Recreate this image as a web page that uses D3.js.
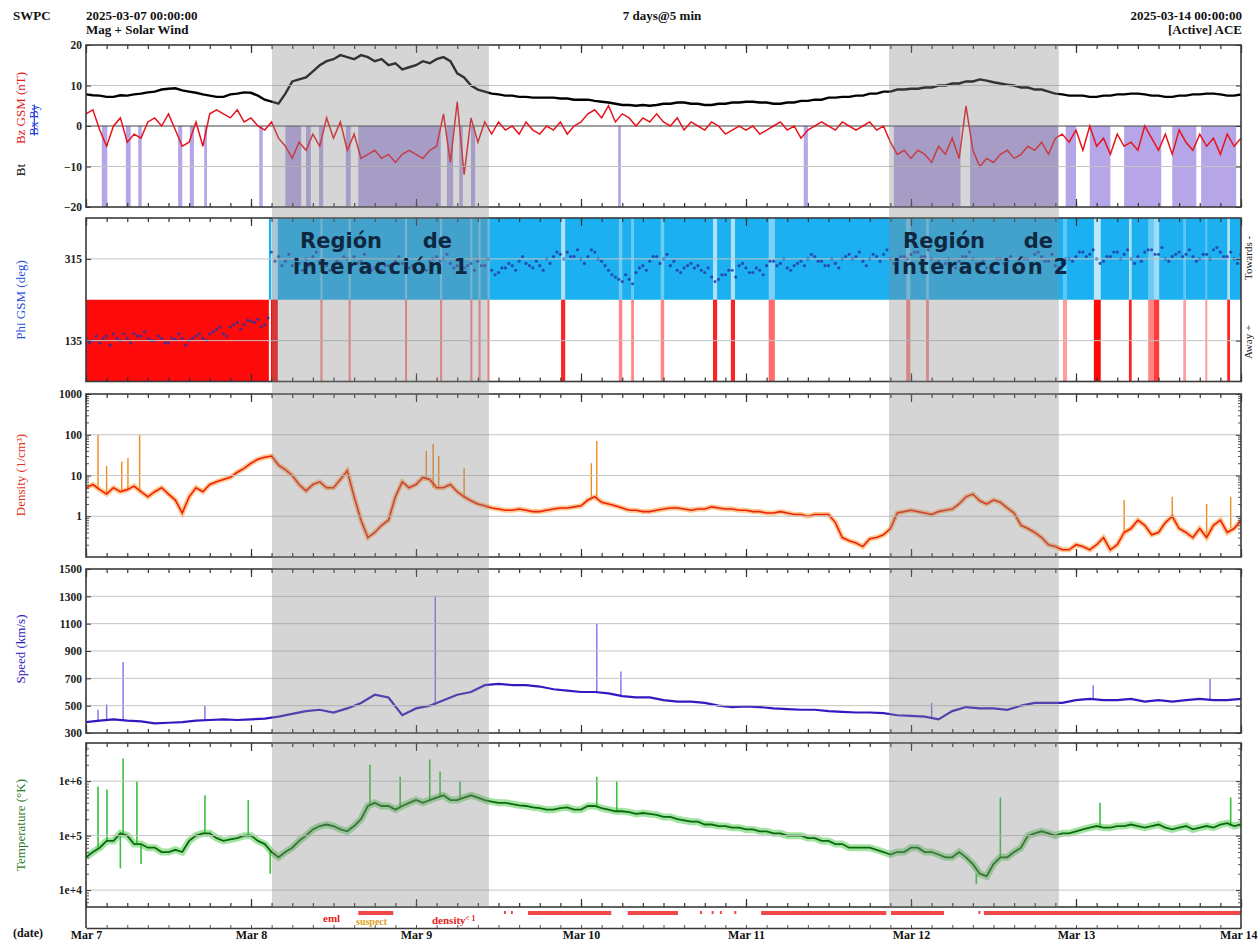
<!DOCTYPE html>
<html>
<head>
<meta charset="utf-8">
<script src="https://cdn.jsdelivr.net/npm/d3@7"></script>
<style>
  body { margin: 0; background: #fff; }
  svg text { font-family: "Liberation Serif", "DejaVu Serif", serif; }
</style>
</head>
<body>
<div id="main"></div>
<script>
// tiempo en horas desde 2025-03-07 00:00 (7 dias)
const dayLabels = ["Mar 7", "Mar 8", "Mar 9", "Mar 10", "Mar 11", "Mar 12", "Mar 13", "Mar 14"];

// Bt (nT), un valor por hora
const bt = [7.8,7.6,7.5,7.2,7.2,7.6,7.5,7.8,8,8.3,8.5,9,9.2,9.3,8.8,8.5,8.2,7.8,7.5,7.2,7.2,7.8,8,8.3,8.2,
  7.5,6.5,6,5.5,8,11,11.5,12,13.5,15,16,16.5,17.5,17,16.5,17.5,17,16,16.5,15,15.5,14,14.5,15,16,15.5,16.5,17,16,13,12,10,9,8.5,8,7.8,
  7.5,7.5,7.2,7.2,7,7,7,7,6.8,6.8,6.5,6.5,6.5,6.2,6,5.8,5.5,5.2,5.2,5,5.2,5,5.2,5.5,5.5,5.8,5.8,5.5,5.5,5.2,5.2,5.5,5.5,5.8,5.8,6,6,5.8,5.8,5.5,
  5.5,5.8,5.8,6.2,6.2,6.5,6.5,7,7,7.2,7.2,7.5,7.5,8,8,8.5,8.5,9,9,9.2,9.2,9.5,9.5,10,10,10.5,10.5,11,11,11.5,11.2,10.8,10.5,10.2,10,9.5,
  9.5,9,9,8.5,8,7.8,7.5,7.5,7.5,7.2,7.2,7.5,7.5,7.8,7.8,8,8,7.8,7.5,7.5,7.2,7.2,7.5,7.5,7.8,7.8,8,8,7.8,7.5,7.5,7.8];

// Bz GSM (nT), un valor por hora
const bz = [3,4,-1,-5,0,2,-4,-2,-3,1,2,0,3,-1,-5,-4,1,-5,3,4,3,2,4,1,2,
  0,-1,1,-3,-5,-8,-4,-6,-2,-5,2,-3,1,-6,-2,-8,-7,-6,-8,-7,-9,-7,-6,-7,-8,-6,-5,3,-9,6,-12,2,-4,1,-2,1,
  -1,0,-2,1,-1,-2,0,-1,1,-2,0,
  1,3,4,2,5,1,3,2,0,2,1,3,1,0,2,-1,1,0,-1,1,0,-2,-1,0,
  -1,0,-2,-1,0,1,-1,0,-3,-1,0,1,0,-1,1,0,-1,0,1,-1,0,
  -4,-7,-6,-8,-6,-7,-9,-5,-7,-3,-8,5,-6,-10,-8,-9,-7,-6,-8,-7,-5,-6,-4,-7,-3,-2,-4,
  -1,-6,0,-5,-3,-7,-2,-5,-4,-6,0,-3,-6,-2,-7,-1,-4,-6,-2,-5,-3,-7,-2,-5,-3];

// intervalos con Bz sur (horas inicio, fin)
const bzSouth = [[2.3,3.1],[5.8,6.5],[7.6,8.1],[13.4,14],[15.1,15.7],[17.2,17.6],[25.2,25.7],
  [29,31.3],[32,32.7],[33.9,34.5],[37.8,38.5],[39.6,51.6],[52.5,53.4],[54.3,54.8],[56,56.6],
  [77.4,77.8],[104.4,105],[117.5,127.2],[128.6,141.4],[142.5,144],[146,149],[151,156.4],
  [158,161.5],[162.2,167.3]];

// Phi GSM (deg), un valor por hora (h = 0, 1, 2 ...)
const phi = [140,135,130,145,150,135,140,150,145,140,135,140,130,138,140,135,145,140,150,160,150,165,175,170,178,182,170,
  330,320,310,300,305,315,320,310,300,295,305,315,320,310,
  300,295,290,300,310,305,295,290,300,310,320,315,305,300,295,305,
  310,300,290,285,295,300,310,305,295,300,315,320,325,330,320,315,
  320,330,310,290,275,265,270,285,300,310,320,315,300,290,295,305,
  300,285,275,270,280,290,300,295,285,290,300,310,305,295,300,310,
  315,320,310,300,305,315,325,320,310,315,320,325,315,310,320,325,
  330,320,315,310,305,300,310,320,315,300,295,305,315,310,300,305,
  315,325,320,310,300,305,315,320,330,325,315,310,320,330,325,315,
  320,330,335,325,315,320,330,325,320,315,325,335,330,320,315,325];
// Phi GSM (deg) a la media hora (h = 0.5, 1.5 ...)
const phiHalf = [130,145,140,125,140,150,130,145,155,135,145,130,140,150,125,140,150,135,155,165,145,170,160,180,175,165,185,
  310,300,325,315,290,300,330,305,290,310,320,300,305,325,
  290,305,300,285,320,295,300,305,290,315,310,325,295,310,300,290,
  300,315,280,295,305,290,320,300,310,290,305,330,315,320,335,305,
  335,315,300,280,270,280,260,295,290,320,305,325,310,285,300,295,
  290,295,265,280,290,275,305,285,295,280,310,300,315,290,305,300,
  325,310,300,315,295,320,315,330,300,325,310,335,305,320,315,330,
  320,335,305,300,315,295,320,330,305,310,285,315,305,320,290,315,
  305,330,310,325,295,315,310,330,320,335,305,320,330,315,335,305,
  310,335,325,340,310,325,320,335,310,325,315,340,320,330,305,320];

// sector "away" (inicio, fin, intensidad)
const awaySector = [[0,26.6,1],[26.9,27.9,1],[34.1,34.4,0.5],[38.2,38.5,0.5],[46.4,46.7,0.5],
  [51.5,51.8,0.5],[55.9,56.2,0.5],[57.1,57.4,0.5],[58.4,58.7,0.5],[69.1,69.7,0.9],
  [77.5,78,0.5],[79.3,79.7,0.5],[83.6,84.1,0.5],[91.2,91.8,0.9],[93.8,94.4,0.9],
  [99.3,100.2,0.6],[119.3,119.9,0.5],[122.2,122.6,0.5],[142.1,142.7,0.4],[146.6,147.6,1],
  [151.7,152.1,0.9],[154.5,155.3,0.5],[155.3,156.1,0.8],[159.6,160,0.4],[162.8,163.1,0.4],
  [166,166.4,0.9]];

// densidad (1/cm3), un valor por hora
const density = [5,6,4.5,3.5,5,4,4.5,5.5,4,3,4,5,3.5,2.5,1.2,3,5,4,6,7,8,9,12,15,20,
  25,28,30,18,14,10,6,4.2,6,7,5,5,8,13,3,0.8,0.3,0.4,0.6,0.8,3,7,5,6,9,8,5,5,6,4,3,2.4,2,1.8,
  1.6,1.5,1.4,1.4,1.5,1.4,1.3,1.3,1.4,1.5,1.6,1.6,1.7,1.8,
  2.5,3,2.2,2,1.8,1.6,1.4,1.4,1.3,1.3,1.4,1.5,1.6,1.6,1.5,1.4,1.5,1.5,1.7,1.6,
  1.5,1.5,1.4,1.4,1.3,1.3,1.2,1.2,1.3,1.2,1.1,1.1,1,1.1,1.1,1.1,0.7,0.3,
  0.25,0.22,0.18,0.28,0.3,0.35,0.5,1.2,
  1.3,1.4,1.3,1.2,1.1,1.3,1.4,1.5,2,3,3.5,2.4,2,2.5,2.2,1.6,1.2,0.6,
  0.5,0.4,0.3,0.2,0.18,0.15,0.15,0.2,0.18,0.15,0.2,0.3,0.15,0.2,0.4,0.5,
  0.8,0.6,0.35,0.4,0.7,1,0.5,0.4,0.3,0.5,0.3,0.6,0.8,0.4,0.5,0.8];
const densitySpikes = [[1.75,100],[3,17],[5.2,22],[6.1,27],[7.8,100],[49.5,40],[50.5,60],[51.3,30],
  [55,15],[73.5,20],[74.3,70],[151,2.5],[158,3],[163,2],[166.5,3]];

// velocidad (km/s), cada 2 horas
const speed = [380,390,400,390,385,370,375,380,390,395,
  400,395,400,405,420,440,460,470,450,480,
  520,580,560,430,480,500,540,580,600,650,
  660,650,650,640,620,610,600,600,590,570,
  560,560,540,530,530,520,500,490,495,490,
  480,475,470,470,460,455,450,450,445,430,
  425,420,400,460,490,480,480,470,500,520,
  520,520,540,550,540,540,550,530,540,530,
  540,550,540,540,550];
const speedSpikes = [[1.75,470],[3,510],[5.4,820],[17.3,500],[50.8,1300],[74.3,1100],[77.8,750],
  [123,520],[146.5,650],[163.5,700]];

// temperatura (K), un valor por hora
const temperature = [4e4,5e4,6e4,8e4,8e4,1.1e5,1e5,7e4,7e4,6e4,6e4,5e4,5e4,5.5e4,5e4,8e4,1e5,1.1e5,1.1e5,9e4,8e4,8.5e4,9e4,1e5,1e5,
  8e4,7e4,5e4,4e4,5e4,6e4,8e4,1e5,1.3e5,1.5e5,1.6e5,1.5e5,1.3e5,1.2e5,1.5e5,2e5,3.5e5,4e5,3.5e5,3.5e5,3e5,3.5e5,4e5,4.5e5,4e5,4.5e5,
  5e5,5.5e5,4.5e5,4.5e5,5e5,5.5e5,5e5,4.5e5,4.2e5,4e5,4e5,3.8e5,3.6e5,3.5e5,3.3e5,3.2e5,3e5,3e5,3.2e5,3.3e5,3e5,3e5,
  3.5e5,3.5e5,3.2e5,3e5,2.8e5,2.8e5,2.7e5,2.5e5,2.6e5,2.5e5,2.4e5,2.2e5,2.2e5,2e5,1.9e5,1.8e5,1.8e5,1.6e5,1.6e5,1.5e5,1.5e5,1.4e5,1.4e5,1.3e5,1.3e5,1.2e5,1.2e5,1.1e5,
  1.1e5,1e5,1e5,1e5,9e4,9e4,8e4,8e4,7e4,7e4,6e4,6e4,6e4,6e4,5.5e4,5e4,4.5e4,5e4,5e4,6e4,6e4,5e4,5e4,4.5e4,
  4e4,4e4,5e4,4e4,3e4,2e4,1.8e4,3e4,4e4,4e4,5e4,6e4,1e5,1.1e5,1.2e5,1.1e5,1e5,1.1e5,1.1e5,1.2e5,1.3e5,1.4e5,1.5e5,1.4e5,
  1.4e5,1.5e5,1.5e5,1.6e5,1.5e5,1.4e5,1.5e5,1.6e5,1.4e5,1.3e5,1.4e5,1.5e5,1.3e5,1.4e5,1.5e5,1.4e5,1.6e5,1.7e5,1.5e5,1.6e5];
const tempSpikes = [[1.75,8e5],[3.05,7e5],[5.4,2.6e6],[7.4,1e6],[17.3,5.5e5],[23.6,4.5e5],
  [41.3,2e6],[45.7,1.2e6],[50,2.5e6],[51.5,1.5e6],[54.4,1e6],[74.3,1.2e6],[77.2,1e6],
  [133,5e5],[147.5,4e5],[166.5,5e5],[5,2.5e4],[8,3e4],[26.8,2e4],[129.5,1.3e4]];

// barras de calidad en la franja inferior
const flagBars = [[39.6,44.7],[64.3,76.4],[78.8,86.1],[98.2,116.4],[117.1,124.8],[130.6,168]];
const flagDots = [60.8,61.8,89.3,91,92.2,94.3,129.8];

// regiones de interaccion (horas)
const regions = [[27.05, 58.6, "interacción 1"], [116.8, 141.5, "interacción 2"]];

class SolarWindPlot {
  constructor() {
    this.w = 1258;
    this.h = 945;
    this.x = d3.scaleLinear().domain([0, 168]).range([86, 1241]);
    this.svg = d3.select("#main").append("svg")
      .attr("width", this.w).attr("height", this.h);
  }

  clip(id, top, bottom) {
    this.svg.append("clipPath").attr("id", id)
      .append("rect").attr("x", 86).attr("y", top).attr("width", 1155).attr("height", bottom - top);
    return this.svg.append("g").attr("clip-path", `url(#${id})`);
  }

  frame(top, bottom, y, major, fmt, minor, grid) {
    const g = this.svg.append("g");
    const x = this.x;
    if (grid) {
      g.selectAll(null).data(grid).join("line")
        .attr("x1", 86).attr("x2", 1241)
        .attr("y1", d => y(d)).attr("y2", d => y(d))
        .attr("stroke", "#c4c4c4").attr("stroke-width", 1);
    }
    const hx = d3.range(0, 169, 3);
    const dx = d3.range(0, 169, 24);
    const xt = (pos, vals, size) => g.append("g")
      .attr("transform", `translate(0,${pos})`)
      .call(d3.axisBottom(x).tickValues(vals).tickSizeInner(size).tickSizeOuter(0).tickFormat(""))
      .call(a => a.select(".domain").remove())
      .call(a => a.selectAll("line").attr("stroke", "#333").attr("stroke-width", 1.2));
    xt(top, hx, 4); xt(top, dx, 8);
    xt(bottom, hx, -4); xt(bottom, dx, -8);

    const yl = g.append("g").attr("transform", "translate(86,0)")
      .call(d3.axisLeft(y).tickValues(major).tickFormat(fmt).tickSizeInner(-5).tickSizeOuter(0).tickPadding(4))
      .call(a => a.select(".domain").remove());
    yl.selectAll("text").attr("font-size", 11.5).attr("font-weight", "bold").attr("fill", "#222")
      .style("font-family", "'Liberation Serif', serif");
    yl.selectAll("line").attr("stroke", "#333");
    g.append("g").attr("transform", "translate(1241,0)")
      .call(d3.axisRight(y).tickValues(major).tickFormat("").tickSizeInner(-5).tickSizeOuter(0))
      .call(a => a.select(".domain").remove())
      .selectAll("line").attr("stroke", "#333");
    if (minor) {
      [[86, d3.axisLeft], [1241, d3.axisRight]].forEach(([px, ax]) => {
        g.append("g").attr("transform", `translate(${px},0)`)
          .call(ax(y).tickValues(minor).tickFormat("").tickSizeInner(-3).tickSizeOuter(0))
          .call(a => a.select(".domain").remove())
          .selectAll("line").attr("stroke", "#555");
      });
    }
    g.append("rect").attr("x", 86).attr("y", top).attr("width", 1155).attr("height", bottom - top)
      .attr("fill", "none").attr("stroke", "#3a3a3a").attr("stroke-width", 1.6);
  }

  label(txt, px, py, color, size) {
    return this.svg.append("text")
      .attr("transform", `translate(${px},${py}) rotate(-90)`)
      .attr("text-anchor", "middle").attr("font-size", size || 13)
      .attr("fill", color).text(txt);
  }

  // picos verticales desde la serie hasta el valor del pico
  spikes(g, list, series, step, y, color, width) {
    g.selectAll(null).data(list).join("line")
      .attr("x1", d => this.x(d[0])).attr("x2", d => this.x(d[0]))
      .attr("y1", d => y(series[Math.round(d[0] / step)]))
      .attr("y2", d => y(d[1]))
      .attr("stroke", color).attr("stroke-width", width);
  }

  renderHeader() {
    const t = (txt, px, py, anchor) => this.svg.append("text")
      .attr("x", px).attr("y", py).attr("text-anchor", anchor || "start")
      .attr("font-size", 13).attr("font-weight", "bold").attr("fill", "#111").text(txt);
    t("SWPC", 13, 20);
    t("2025-03-07 00:00:00", 86, 20);
    t("Mag + Solar Wind", 86, 34);
    t("7 days@5 min", 662, 20, "middle");
    t("2025-03-14 00:00:00", 1242, 20, "end");
    t("[Active] ACE", 1242, 34, "end");
  }

  renderMag() {
    const top = 45, bottom = 207;
    const y = d3.scaleLinear().domain([-20, 20]).range([bottom, top]);
    const g = this.clip("c1", top, bottom);
    g.selectAll(null).data(bzSouth).join("rect")
      .attr("x", d => this.x(d[0])).attr("width", d => Math.max(1.5, this.x(d[1]) - this.x(d[0])))
      .attr("y", y(0)).attr("height", y(-20) - y(0))
      .attr("fill", "#7a5cd6").attr("opacity", 0.55);
    this.frame(top, bottom, y, [-20, -10, 0, 10, 20], d3.format("d"), null, [-10, 10]);
    g.append("line").attr("x1", 86).attr("x2", 1241).attr("y1", y(0)).attr("y2", y(0))
      .attr("stroke", "#444").attr("stroke-width", 1.2);
    g.append("path").datum(bz)
      .attr("d", d3.line().x((d, i) => this.x(i)).y(d => y(d)))
      .attr("fill", "none").attr("stroke", "#e8141c").attr("stroke-width", 1.5);
    g.append("path").datum(bt)
      .attr("d", d3.line().x((d, i) => this.x(i)).y(d => y(d)))
      .attr("fill", "none").attr("stroke", "#000").attr("stroke-width", 2.4);

    this.label("Bt", 25, 170, "#000");
    this.label("Bz GSM (nT)", 25, 108, "#e02020");
    this.label("Bx  By", 38, 120, "#2040e0", 12).style("text-decoration", "line-through");
  }

  renderPhi() {
    const top = 218, bottom = 381.5;
    const y = d3.scaleLinear().domain([45, 405]).range([bottom, top]);
    const g = this.clip("c2", top, bottom);
    g.append("rect").attr("x", this.x(26.6)).attr("width", this.x(168) - this.x(26.6))
      .attr("y", y(405)).attr("height", y(225) - y(405)).attr("fill", "#1cb0f0");
    g.selectAll(null).data(awaySector.slice(1)).join("rect")
      .attr("x", d => this.x(d[0])).attr("width", d => Math.max(1.5, this.x(d[1]) - this.x(d[0])))
      .attr("y", y(405)).attr("height", y(225) - y(405))
      .attr("fill", "#e6f6fd").attr("opacity", d => 0.8 * d[2]);
    g.selectAll(null).data(awaySector).join("rect")
      .attr("x", d => this.x(d[0])).attr("width", d => Math.max(1.5, this.x(d[1]) - this.x(d[0])))
      .attr("y", y(225)).attr("height", y(45) - y(225))
      .attr("fill", "#ff0a0a").attr("opacity", d => d[2]);
    this.frame(top, bottom, y, [135, 315], d3.format("d"), null, [135, 315]);
    const dots = phi.map((v, i) => [i, v]).concat(phiHalf.map((v, i) => [i + 0.5, v]));
    g.selectAll(null).data(dots).join("circle")
      .attr("cx", d => this.x(d[0])).attr("cy", d => y(d[1])).attr("r", 1.6)
      .attr("fill", "#2236a8").attr("opacity", 0.8);

    this.label("Phi GSM (deg)", 25, 300, "#2a50e0");
    this.label("Towards -", 1252, 258, "#222", 11);
    this.label("Away +", 1252, 342, "#222", 11);
  }

  renderDensity() {
    const top = 394, bottom = 557;
    const y = d3.scaleLog().domain([0.1, 1000]).range([bottom, top]);
    const g = this.clip("c3", top, bottom);
    const minor = [];
    [0.1, 1, 10, 100].forEach(b => d3.range(2, 10).forEach(k => minor.push(b * k)));
    this.frame(top, bottom, y, [1, 10, 100, 1000], d3.format("d"), minor, [1, 10, 100]);
    const line = d3.line().x((d, i) => this.x(i)).y(d => y(d));
    this.spikes(g, densitySpikes, density, 1, y, "#f08a1c", 1.4);
    g.append("path").datum(density).attr("d", line)
      .attr("fill", "none").attr("stroke", "#ff9a2a").attr("stroke-width", 5).attr("opacity", 0.55);
    g.append("path").datum(density).attr("d", line)
      .attr("fill", "none").attr("stroke", "#ee2010").attr("stroke-width", 1.6);
    this.label("Density (1/cm³)", 25, 475, "#e03020");
  }

  renderSpeed() {
    const top = 569, bottom = 733;
    const y = d3.scaleLinear().domain([300, 1500]).range([bottom, top]);
    const g = this.clip("c4", top, bottom);
    this.frame(top, bottom, y, d3.range(300, 1501, 200), d3.format("d"), null, d3.range(500, 1301, 200));
    this.spikes(g, speedSpikes, speed, 2, y, "#8a6af0", 1.4);
    g.append("path").datum(speed)
      .attr("d", d3.line().x((d, i) => this.x(i * 2)).y(d => y(d)))
      .attr("fill", "none").attr("stroke", "#3418c0").attr("stroke-width", 2.2);
    this.label("Speed (km/s)", 25, 649, "#3020c0");
  }

  renderTemperature() {
    const top = 743, bottom = 907;
    const y = d3.scaleLog().domain([Math.pow(10, 3.69), Math.pow(10, 6.7)]).range([bottom, top]);
    const g = this.clip("c5", top, bottom);
    const minor = [];
    [1e3, 1e4, 1e5, 1e6].forEach(b => d3.range(2, 10).forEach(k => minor.push(b * k)));
    const fmt = d => "1e+" + Math.round(Math.log10(d));
    this.frame(top, bottom, y, [1e4, 1e5, 1e6], fmt, minor.filter(v => v > 5e3 && v < 5e6), [1e4, 1e5, 1e6]);
    const line = d3.line().x((d, i) => this.x(i)).y(d => y(d));
    this.spikes(g, tempSpikes, temperature, 1, y, "#3cc03c", 1.6);
    g.append("path").datum(temperature).attr("d", line)
      .attr("fill", "none").attr("stroke", "#34c034").attr("stroke-width", 7).attr("opacity", 0.45);
    g.append("path").datum(temperature).attr("d", line)
      .attr("fill", "none").attr("stroke", "#0a6a0a").attr("stroke-width", 1.8);
    this.label("Temperature (°K)", 25, 825, "#2a7a2a");
  }

  renderFlags() {
    const top = 907, bottom = 928;
    const g = this.svg.append("g");
    g.selectAll(null).data(flagBars).join("rect")
      .attr("x", d => this.x(d[0])).attr("width", d => this.x(d[1]) - this.x(d[0]))
      .attr("y", 911).attr("height", 4).attr("fill", "#f04848");
    g.selectAll(null).data(flagDots).join("rect")
      .attr("x", d => this.x(d)).attr("width", 2).attr("y", 911).attr("height", 3).attr("fill", "#f04848");
    const t = (txt, px, py, c, s) => g.append("text").attr("x", px).attr("y", py)
      .attr("font-size", s).attr("font-weight", "bold").attr("fill", c).text(txt);
    t("eml", 323, 922, "#e82020", 11);
    t("suspect", 356, 925, "#e0a020", 10);
    t("density", 432, 924, "#e82020", 11);
    t("< 1", 465, 921, "#e82020", 8);
    g.append("line").attr("x1", 86).attr("x2", 86).attr("y1", top).attr("y2", bottom).attr("stroke", "#3a3a3a").attr("stroke-width", 1.6);
    g.append("line").attr("x1", 1241).attr("x2", 1241).attr("y1", top).attr("y2", bottom).attr("stroke", "#3a3a3a").attr("stroke-width", 1.6);
    g.append("g").attr("transform", `translate(0,${bottom})`)
      .call(d3.axisBottom(this.x).tickValues(d3.range(0, 169, 3)).tickSizeInner(-3).tickSizeOuter(0).tickFormat(""))
      .call(a => a.select(".domain").attr("stroke", "#3a3a3a").attr("stroke-width", 1.6))
      .selectAll("line").attr("stroke", "#555");

    const ax = this.svg.append("g").attr("transform", `translate(0,${bottom})`)
      .call(d3.axisBottom(this.x).tickValues(d3.range(0, 169, 24))
        .tickFormat((d, i) => dayLabels[i]).tickSize(0).tickPadding(2))
      .call(a => a.select(".domain").remove());
    ax.selectAll("text").attr("font-size", 12).attr("font-weight", "bold").attr("fill", "#111")
      .style("font-family", "'Liberation Serif', serif");
    ax.selectAll("text").filter((d, i) => i === dayLabels.length - 1)
      .attr("text-anchor", "end").attr("x", 1257 - this.x(168));
    this.svg.append("text").attr("x", 13).attr("y", 937).attr("font-size", 12)
      .attr("font-weight", "bold").attr("fill", "#111").text("(date)");
  }

  renderRegions() {
    const g = this.svg.append("g");
    g.selectAll(null).data(regions).join("rect")
      .attr("x", d => this.x(d[0])).attr("width", d => this.x(d[1]) - this.x(d[0]))
      .attr("y", 45).attr("height", 907 - 45)
      .attr("fill", "#8a8a8a").attr("opacity", 0.36);
    // posiciones de las palabras dentro del panel Phi
    const pos = [[300, 452, 293, 175], [903, 1053, 893, 175]];
    regions.forEach((r, i) => {
      const [a, b, c, len] = pos[i];
      const txt = (s, px, py, anchor) => g.append("text").attr("x", px).attr("y", py)
        .attr("text-anchor", anchor)
        .style("font-family", "'DejaVu Sans', sans-serif")
        .attr("font-size", 21).attr("font-weight", "bold").attr("fill", "#0f2740").text(s);
      txt("Región", a, 248, "start");
      txt("de", b, 248, "end");
      txt(r[2], c, 274, "start").attr("textLength", len).attr("lengthAdjust", "spacing");
    });
  }

  render() {
    this.renderHeader();
    this.renderMag();
    this.renderPhi();
    this.renderDensity();
    this.renderSpeed();
    this.renderTemperature();
    this.renderFlags();
    this.renderRegions();
  }
}

const plot = new SolarWindPlot();
plot.render();
</script>
</body>
</html>
